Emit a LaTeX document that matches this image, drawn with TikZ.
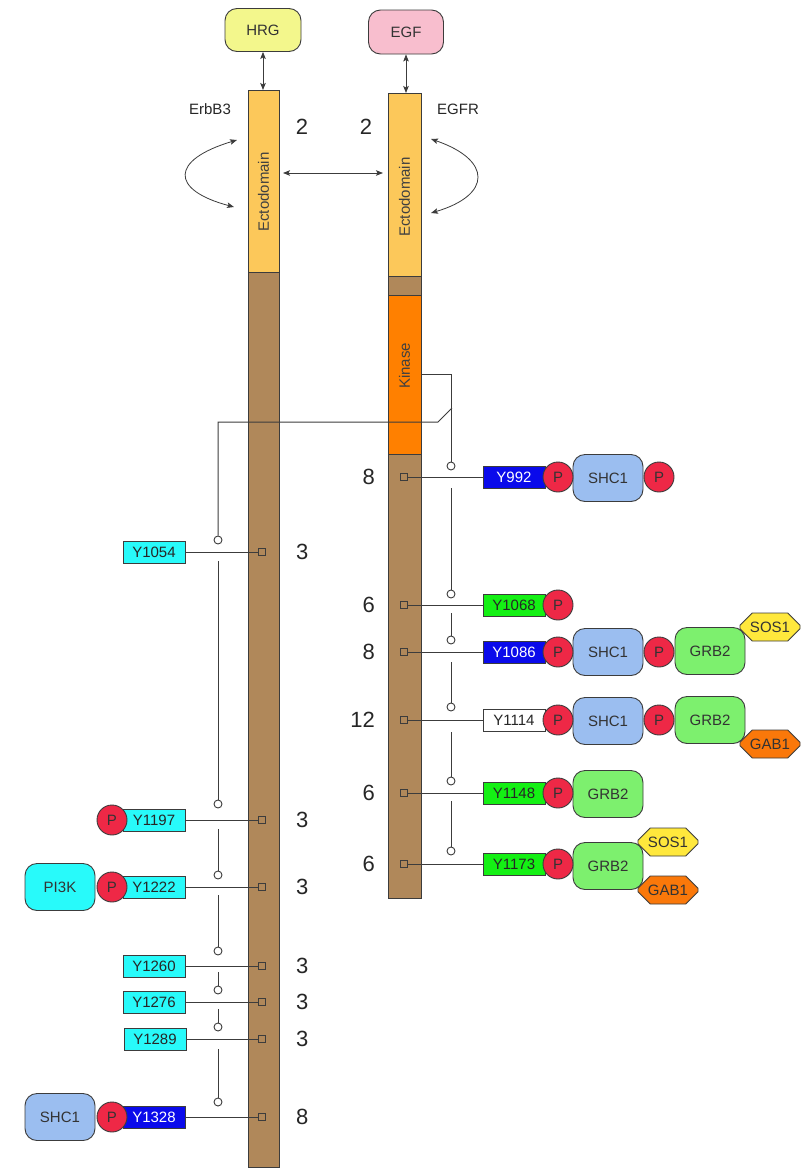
\documentclass[tikz,border=0pt]{standalone}
\usepackage{fontspec}
\setmainfont{Liberation Sans}
\usetikzlibrary{arrows.meta,shapes.misc}

\definecolor{ectoc}{RGB}{252,200,90}
\definecolor{brownbar}{RGB}{176,136,90}
\definecolor{kinc}{RGB}{255,128,0}
\definecolor{hrgc}{RGB}{243,247,140}
\definecolor{egfc}{RGB}{248,190,206}
\definecolor{cyanb}{RGB}{40,250,250}
\definecolor{blueb}{RGB}{10,10,235}
\definecolor{greenb}{RGB}{20,240,20}
\definecolor{pred}{RGB}{238,40,70}
\definecolor{shcc}{RGB}{155,190,240}
\definecolor{grbc}{RGB}{125,240,110}
\definecolor{sosc}{RGB}{255,232,60}
\definecolor{gabc}{RGB}{250,120,10}
\definecolor{edgec}{RGB}{60,60,60}

\begin{document}
\begin{tikzpicture}[x=1pt,y=-1pt,
  font=\fontsize{15}{18}\selectfont,
  bar/.style={draw=edgec, line width=0.9pt, fill=brownbar, inner sep=0pt, outer sep=0pt},
  ectobox/.style={draw=edgec, line width=0.9pt, fill=ectoc, inner sep=0pt, outer sep=0pt},
  kinbox/.style={draw=edgec, line width=0.9pt, fill=kinc, inner sep=0pt, outer sep=0pt},
  vtext/.style={rotate=90, text=black!75, inner sep=0pt},
  ligand/.style={draw=edgec, line width=0.9pt, rounded corners=12pt, inner sep=0pt, text=black!80},
  lab/.style={draw=edgec, line width=0.9pt, minimum width=62pt, minimum height=22pt, inner sep=0pt, text=black!85},
  pc/.style={circle, draw=edgec, line width=0.9pt, fill=pred, minimum size=30pt, inner sep=0pt, text=black!80},
  prot/.style={draw=edgec, line width=0.9pt, rounded corners=12pt, minimum width=70pt, minimum height=47pt, inner sep=0pt, text=black!80},
  octa/.style={chamfered rectangle, chamfered rectangle xsep=7pt, chamfered rectangle ysep=7pt, draw=edgec, line width=0.9pt, minimum width=60pt, minimum height=28pt, inner sep=0pt, text=black!80},
  sq/.style={draw=edgec, line width=0.9pt, minimum size=7pt, inner sep=0pt},
  lc/.style={circle, draw=edgec, line width=0.9pt, fill=white, minimum size=8pt, inner sep=0pt},
  conn/.style={draw=edgec, line width=1pt},
  num/.style={font=\fontsize{22}{24}\selectfont, inner sep=0pt, text=black!85},
  dbl/.style={{Stealth[length=7pt,width=5.5pt,inset=1.5pt]}-{Stealth[length=7pt,width=5.5pt,inset=1.5pt]}, draw=edgec, line width=0.8pt}
]
\useasboundingbox (0,0) rectangle (808,1170);
\fill[white] (0,0) rectangle (808,1170);

% receptor bars
\node[bar, minimum width=31pt, minimum height=1077pt] (erbBar) at (263.5,628.5) {};
\node[ectobox, minimum width=31pt, minimum height=182pt] (erbEcto) at (263.5,181) {};
\node[bar, minimum width=33pt, minimum height=805pt] (egfrBar) at (404.5,495.5) {};
\node[ectobox, minimum width=33pt, minimum height=183pt] (egfrEcto) at (404.5,184.5) {};
\node[kinbox, minimum width=33pt, minimum height=159pt] (kinase) at (404.5,374.5) {};
\node[vtext] (erbEctoTxt) at (263.5,192) {Ectodomain};
\node[vtext] (egfrEctoTxt) at (404.5,197) {Ectodomain};
\node[vtext] (kinTxt) at (404.5,366) {Kinase};

% ligands
\node[ligand, fill=hrgc, minimum width=76pt, minimum height=43pt] (hrg) at (263,30) {HRG};
\node[ligand, fill=egfc, minimum width=75pt, minimum height=44pt] (egf) at (406,32) {EGF};
\draw[dbl] (hrg.south) -- (hrg.south |- erbEcto.north);
\draw[dbl] (egf.south) -- (egf.south |- egfrEcto.north);

% receptor labels
\node[text=black!85] (erbLbl) at (210,109) {ErbB3};
\node[text=black!85] (egfrLbl) at (458,109) {EGFR};
\node[num] (n2a) at (302,127) {2};
\node[num] (n2b) at (366,127) {2};

% dimerisation arrows
\coordinate (la1) at (237,140); \coordinate (la2) at (234,207);
\draw[dbl] (la1) .. controls (170,160) and (170,190) .. (la2);
\coordinate (ra1) at (431,139); \coordinate (ra2) at (431,213);
\draw[dbl] (ra1) .. controls (492,160) and (492,195) .. (ra2);
\coordinate (hA) at (283,173); \coordinate (hB) at (383,173);
\draw[dbl] (hA) -- (hB);

% ---------------- EGFR sites (right) ----------------
% Y992
\node[sq] (sq992) at (404,477) {};
\node[lab, fill=blueb, text=white] (y992) at (514,477) {Y992};
\node[num, anchor=east] (n992) at (375,477) {8};
\node[prot, fill=shcc] (shc992) at (608,478) {SHC1};
\node[pc] (p992a) at (558,477) {P};
\node[pc] (p992b) at (659,477) {P};
\draw[conn] (sq992) -- (y992);
% Y1068
\node[sq] (sq1068) at (404,605) {};
\node[lab, fill=greenb] (y1068) at (514,605) {Y1068};
\node[num, anchor=east] (n1068) at (375,605) {6};
\node[pc] (p1068) at (558,605) {P};
\draw[conn] (sq1068) -- (y1068);
% Y1086
\node[sq] (sq1086) at (404,652) {};
\node[lab, fill=blueb, text=white] (y1086) at (514,652) {Y1086};
\node[num, anchor=east] (n1086) at (375,652) {8};
\node[prot, fill=shcc] (shc1086) at (608,652) {SHC1};
\node[prot, fill=grbc] (grb1086) at (710,651) {GRB2};
\node[pc] (p1086a) at (558,652) {P};
\node[pc] (p1086b) at (659,652) {P};
\node[octa, fill=sosc] (sos1086) at (770,627) {SOS1};
\draw[conn] (sq1086) -- (y1086);
% Y1114
\node[sq] (sq1114) at (404,720) {};
\node[lab, fill=white] (y1114) at (514,720) {Y1114};
\node[num, anchor=east] (n1114) at (375,720) {12};
\node[prot, fill=shcc] (shc1114) at (608,721) {SHC1};
\node[prot, fill=grbc] (grb1114) at (710,720) {GRB2};
\node[pc] (p1114a) at (558,720) {P};
\node[pc] (p1114b) at (659,720) {P};
\node[octa, fill=gabc] (gab1114) at (770,744) {GAB1};
\draw[conn] (sq1114) -- (y1114);
% Y1148
\node[sq] (sq1148) at (404,793) {};
\node[lab, fill=greenb] (y1148) at (514,793) {Y1148};
\node[num, anchor=east] (n1148) at (375,793) {6};
\node[prot, fill=grbc] (grb1148) at (608,794) {GRB2};
\node[pc] (p1148) at (558,793) {P};
\draw[conn] (sq1148) -- (y1148);
% Y1173
\node[sq] (sq1173) at (404,864) {};
\node[lab, fill=greenb] (y1173) at (514,864) {Y1173};
\node[num, anchor=east] (n1173) at (375,864) {6};
\node[prot, fill=grbc] (grb1173) at (608,866) {GRB2};
\node[pc] (p1173) at (558,864) {P};
\node[octa, fill=sosc] (sos1173) at (668,842) {SOS1};
\node[octa, fill=gabc] (gab1173) at (668,890) {GAB1};
\draw[conn] (sq1173) -- (y1173);

% right lollipop chain
\node[lc] (c992) at (451,466) {};
\draw[conn] (kinase.east) -| (c992);
\coordinate (s992) at (451,488);
\node[lc] (c1068) at (451,594) {};
\draw[conn] (s992) -- (c1068);
\coordinate (s1068) at (451,613);
\node[lc] (c1086) at (451,640) {};
\draw[conn] (s1068) -- (c1086);
\coordinate (s1086) at (451,662);
\node[lc] (c1114) at (451,707) {};
\draw[conn] (s1086) -- (c1114);
\coordinate (s1114) at (451,732);
\node[lc] (c1148) at (451,781) {};
\draw[conn] (s1114) -- (c1148);
\coordinate (s1148) at (451,801);
\node[lc] (c1173) at (451,851) {};
\draw[conn] (s1148) -- (c1173);

% ---------------- ErbB3 sites (left) ----------------
% Y1054
\node[sq] (sq1054) at (262,552) {};
\node[lab, fill=cyanb] (y1054) at (154,552) {Y1054};
\node[num, anchor=west] (n1054) at (296,552) {3};
\draw[conn] (y1054) -- (sq1054);
% Y1197
\node[sq] (sq1197) at (262,820) {};
\node[lab, fill=cyanb] (y1197) at (154,820) {Y1197};
\node[num, anchor=west] (n1197) at (296,820) {3};
\node[pc] (p1197) at (112,820) {P};
\draw[conn] (y1197) -- (sq1197);
% Y1222
\node[sq] (sq1222) at (262,887) {};
\node[lab, fill=cyanb] (y1222) at (154,887) {Y1222};
\node[num, anchor=west] (n1222) at (296,887) {3};
\node[prot, fill=cyanb] (pi3k) at (60,887) {PI3K};
\node[pc] (p1222) at (112,887) {P};
\draw[conn] (y1222) -- (sq1222);
% Y1260
\node[sq] (sq1260) at (262,966) {};
\node[lab, fill=cyanb] (y1260) at (154,966) {Y1260};
\node[num, anchor=west] (n1260) at (296,966) {3};
\draw[conn] (y1260) -- (sq1260);
% Y1276
\node[sq] (sq1276) at (262,1002) {};
\node[lab, fill=cyanb] (y1276) at (154,1002) {Y1276};
\node[num, anchor=west] (n1276) at (296,1002) {3};
\draw[conn] (y1276) -- (sq1276);
% Y1289
\node[sq] (sq1289) at (262,1039) {};
\node[lab, fill=cyanb] (y1289) at (155,1039) {Y1289};
\node[num, anchor=west] (n1289) at (296,1039) {3};
\draw[conn] (y1289) -- (sq1289);
% Y1328
\node[sq] (sq1328) at (262,1117) {};
\node[lab, fill=blueb, text=white] (y1328) at (154,1117) {Y1328};
\node[num, anchor=west] (n1328) at (296,1117) {8};
\node[prot, fill=shcc] (shc1328) at (60,1117) {SHC1};
\node[pc] (p1328) at (112,1117) {P};
\draw[conn] (y1328) -- (sq1328);

% left lollipop chain
\node[lc] (c1054) at (218,540) {};
\coordinate (sw1) at (438,422); \coordinate (sw2) at (452,408);
\draw[conn] (c1054) |- (sw1) -- (sw2);
\coordinate (s1054) at (218,561);
\node[lc] (c1197) at (218,804) {};
\draw[conn] (s1054) -- (c1197);
\coordinate (s1197) at (218,829);
\node[lc] (c1222) at (218,875) {};
\draw[conn] (s1197) -- (c1222);
\coordinate (s1222) at (218,895);
\node[lc] (c1260) at (218,951) {};
\draw[conn] (s1222) -- (c1260);
\coordinate (s1260) at (218,972);
\node[lc] (c1276) at (218,990) {};
\draw[conn] (s1260) -- (c1276);
\coordinate (s1276) at (218,1009);
\node[lc] (c1289) at (218,1027) {};
\draw[conn] (s1276) -- (c1289);
\coordinate (s1289) at (218,1049);
\node[lc] (c1328) at (218,1102) {};
\draw[conn] (s1289) -- (c1328);
\end{tikzpicture}
\end{document}
